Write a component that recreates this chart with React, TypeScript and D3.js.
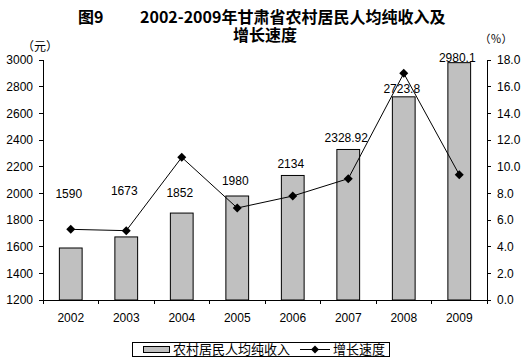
import React from "react";
import * as d3 from "d3";

const years = ["2002", "2003", "2004", "2005", "2006", "2007", "2008", "2009"];
const income = [1590, 1673, 1852, 1980, 2134, 2328.92, 2723.8, 2980.1];
const incomeLabels = ["1590", "1673", "1852", "1980", "2134", "2328.92", "2723.8", "2980.1"];
// where each value label sits, in yuan (labels were placed by hand in the source)
const labelAt = [1965, 1988, 1972, 2062, 2190, 2385, 2752, 2985];
const growth = [5.3, 5.2, 10.7, 6.9, 7.8, 9.1, 17.0, 9.4];
const leftTicks = [1200, 1400, 1600, 1800, 2000, 2200, 2400, 2600, 2800, 3000];
const rightTicks = [0, 2, 4, 6, 8, 10, 12, 14, 16, 18];

const W = 528;
const H = 363;
const margin = { left: 43, right: 41, top: 60, bottom: 63 };
const num = "'Liberation Sans', Arial, sans-serif";
const cjk = "'Noto Sans CJK SC', sans-serif";

const diamond = (x: number, y: number, r = 4.5) =>
  `M${x},${y - r}L${x + r},${y}L${x},${y + r}L${x - r},${y}Z`;

const App = () => {
  const x0 = margin.left;
  const x1 = W - margin.right;
  const y0 = H - margin.bottom;
  const y1 = margin.top;

  const x = d3.scaleBand().domain(years).range([x0, x1]).paddingInner(0).paddingOuter(0);
  const yL = d3.scaleLinear().domain([1200, 3000]).range([y0, y1]);
  const yR = d3.scaleLinear().domain([0, 18]).range([y0, y1]);
  const barW = x.bandwidth() * 0.41;
  const cx = (d: string) => (x(d) as number) + x.bandwidth() / 2;

  const line = d3
    .line<number>()
    .x((_, i) => cx(years[i]))
    .y((d) => yR(d));

  return (
    <svg
      width={W}
      height={H}
      style={{ position: "absolute", left: 0, top: 0, background: "#fff" }}
    >
      <rect x={0} y={0} width={W} height={H} fill="#fff" />
      {/* title, two lines in one text */}
      <text fontFamily={cjk} fontWeight="bold" fontSize={16} fill="#000">
        <tspan x={78} y={23}>图9</tspan>
        <tspan x={140} y={23}>2002-2009年甘肃省农村居民人均纯收入及</tspan>
        <tspan x={265} y={41} textAnchor="middle">增长速度</tspan>
      </text>
      <text x={40} y={51} fontFamily={cjk} fontSize={12} textAnchor="middle">（元）</text>
      <text x={496} y={43} fontFamily={cjk} fontSize={11} textAnchor="middle">（％）</text>

      {/* bars */}
      {income.map((v, i) => (
        <rect
          key={years[i]}
          x={cx(years[i]) - barW / 2}
          y={yL(v)}
          width={barW}
          height={y0 - yL(v)}
          fill="#c0c0c0"
          stroke="#000"
          strokeWidth={1}
        />
      ))}

      {/* axes */}
      <g stroke="#000" strokeWidth={1} shapeRendering="crispEdges">
        <line x1={x0} x2={x0} y1={y1} y2={y0} />
        <line x1={x1} x2={x1} y1={y1} y2={y0} />
        <line x1={x0} x2={x1} y1={y0} y2={y0} />
        {leftTicks.map((t) => (
          <line key={t} x1={x0 - 4} x2={x0} y1={yL(t)} y2={yL(t)} />
        ))}
        {rightTicks.map((t) => (
          <line key={t} x1={x1} x2={x1 + 4} y1={yR(t)} y2={yR(t)} />
        ))}
        {years.map((d) => (
          <line key={d} x1={x(d) as number} x2={x(d) as number} y1={y0} y2={y0 + 4} />
        ))}
        <line x1={x1} x2={x1} y1={y0} y2={y0 + 4} />
      </g>

      <g fontFamily={num} fontSize={12} fill="#000">
        {leftTicks.map((t) => (
          <text key={t} x={33} y={yL(t)} dy="0.35em" textAnchor="end">
            {t}
          </text>
        ))}
        {rightTicks.map((t) => (
          <text key={t} x={497} y={yR(t)} dy="0.35em">
            {t.toFixed(1)}
          </text>
        ))}
        {years.map((d) => (
          <text key={d} x={cx(d)} y={318} dy="0.35em" textAnchor="middle">
            {d}
          </text>
        ))}
        {incomeLabels.map((s, i) => (
          <text key={s} x={cx(years[i]) - 2} y={yL(labelAt[i])} textAnchor="middle">
            {s}
          </text>
        ))}
      </g>

      {/* growth line */}
      <path d={line(growth) || ""} fill="none" stroke="#000" strokeWidth={1} />
      {growth.map((g, i) => (
        <path key={years[i]} d={diamond(cx(years[i]), yR(g))} fill="#000" />
      ))}

      {/* legend */}
      <rect x={132.5} y={342.5} width={257} height={14} fill="#fff" stroke="#000" />
      <rect x={143.5} y={346.5} width={26} height={6} fill="#c0c0c0" stroke="#000" />
      <text x={173} y={354} fontFamily={cjk} fontSize={13}>农村居民人均纯收入</text>
      <line x1={300} x2={330} y1={349.5} y2={349.5} stroke="#000" />
      <path d={diamond(315, 349.5, 4)} fill="#000" />
      <text x={333} y={354} fontFamily={cjk} fontSize={13}>增长速度</text>
    </svg>
  );
};

export default App;
